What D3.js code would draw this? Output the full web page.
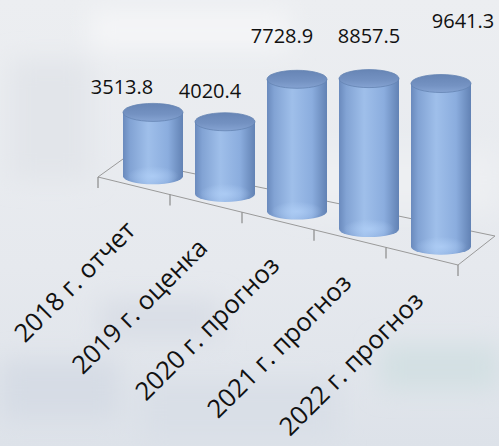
<!DOCTYPE html>
<html>
<head>
<meta charset="utf-8">
<script src="https://cdn.jsdelivr.net/npm/d3@7"></script>
<style>
  html, body { margin: 0; padding: 0; background: #e9ebef; }
  svg { display: block; }
</style>
</head>
<body>
<div id="chart"></div>
<script>
// данные
var categories = ["2018 г. отчет", "2019 г. оценка", "2020 г. прогноз", "2021 г. прогноз", "2022 г. прогноз"];
var values = [3513.8, 4020.4, 7728.9, 8857.5, 9641.3];
var valueLabels = ["3513.8", "4020.4", "7728.9", "8857.5", "9641.3"];

var W = 499, H = 446;
var floorFL = [98, 177], floorFR = [458, 265],
    depthL = [25, -18], depthR = [37, -29];
var rx = 30, ry = 8;
var labelNudge = [[-31, -10], [-15, -16], [-15, -28], [0, -28], [22, -48]]; // подписи значений вручную

var svg = d3.select("#chart").append("svg")
    .attr("width", W).attr("height", H);
var defs = svg.append("defs");

// фон
var blur = defs.append("filter").attr("id", "blur")
    .attr("x", "-20%").attr("y", "-20%").attr("width", "140%").attr("height", "140%");
blur.append("feGaussianBlur").attr("stdDeviation", 12);

var bgGrad = defs.append("linearGradient").attr("id", "bg")
    .attr("x1", 0).attr("y1", 0).attr("x2", 0).attr("y2", 1);
bgGrad.append("stop").attr("offset", "0%").attr("stop-color", "#eceef1");
bgGrad.append("stop").attr("offset", "60%").attr("stop-color", "#e6e9ee");
bgGrad.append("stop").attr("offset", "100%").attr("stop-color", "#dde2e9");
svg.append("rect").attr("width", W).attr("height", H).attr("fill", "url(#bg)");

var bgPatches = svg.append("g").attr("filter", "url(#blur)");
[[90, 10, 200, 40, "#f4f5f7"], [10, 60, 80, 120, "#e2e5ea"], [0, 360, 120, 60, "#d6dce5"],
 [140, 380, 200, 60, "#d9dfe7"], [380, 345, 119, 45, "#d3e0e3"], [300, 150, 199, 60, "#edeff2"],
 [100, 300, 120, 40, "#d9dee6"]]
  .forEach(function(p){
    bgPatches.append("rect").attr("x", p[0]).attr("y", p[1]).attr("width", p[2]).attr("height", p[3]).attr("fill", p[4]);
  });

// шкалы
var x = d3.scaleBand().domain(categories).range([0, 1]).paddingInner(0).paddingOuter(0);
var hScale = d3.scaleLinear().domain([0, 10000]).range([7, 169]);

function lerp(a, b, t){ return a + (b - a) * t; }
function front(t){ return [lerp(floorFL[0], floorFR[0], t), lerp(floorFL[1], floorFR[1], t)]; }

// пол
var BL = [floorFL[0] + depthL[0], floorFL[1] + depthL[1]],
    BR = [floorFR[0] + depthR[0], floorFR[1] + depthR[1]];
svg.append("path")
    .attr("d", "M" + floorFL + "L" + BL + "L" + BR + "L" + floorFR + "Z")
    .attr("fill", "none").attr("stroke", "#9a9a9a").attr("stroke-width", 1);

var tickTs = d3.range(categories.length + 1).map(function(i){ return i / categories.length; });
svg.append("g").selectAll("line").data(tickTs).enter().append("line")
    .attr("x1", function(t){ return front(t)[0]; })
    .attr("x2", function(t){ return front(t)[0]; })
    .attr("y1", function(t){ return front(t)[1]; })
    .attr("y2", function(t){ return front(t)[1] + 11; })
    .attr("stroke", "#8a8a8a").attr("stroke-width", 1.2);

// градиенты цилиндров
var bodyGrad = defs.append("linearGradient").attr("id", "body")
    .attr("x1", 0).attr("y1", 0).attr("x2", 1).attr("y2", 0);
[["0%", "#6a8abd"], ["12%", "#82a3d4"], ["42%", "#9fbfea"], ["75%", "#8badde"], ["100%", "#6282b4"]]
  .forEach(function(s){ bodyGrad.append("stop").attr("offset", s[0]).attr("stop-color", s[1]); });
var topGrad = defs.append("linearGradient").attr("id", "topg")
    .attr("x1", 0).attr("y1", 0).attr("x2", 0).attr("y2", 1);
[["0%", "#6785b5"], ["60%", "#7492c2"], ["100%", "#85a3d2"]]
  .forEach(function(s){ topGrad.append("stop").attr("offset", s[0]).attr("stop-color", s[1]); });
var glow = defs.append("radialGradient").attr("id", "glow")
    .attr("cx", "50%").attr("cy", "60%").attr("r", "50%");
glow.append("stop").attr("offset", "0%").attr("stop-color", "#b0cff7").attr("stop-opacity", 0.8);
glow.append("stop").attr("offset", "100%").attr("stop-color", "#b0cff7").attr("stop-opacity", 0);

var bars = svg.append("g").selectAll("g").data(values).enter().append("g")
    .attr("transform", function(d, i){
        var f = front(x(categories[i]) + x.bandwidth() / 2);
        return "translate(" + (f[0] + 19) + "," + (f[1] - 1.5 - ry) + ")";
    });

bars.append("path")
    .attr("d", function(d){
        var h = hScale(d);
        return "M" + (-rx) + "," + (-h) + "L" + (-rx) + ",0" +
               "A" + rx + "," + ry + " 0 0 0 " + rx + ",0" +
               "L" + rx + "," + (-h) + "Z";
    })
    .attr("fill", "url(#body)");

bars.append("ellipse")
    .attr("cx", 0).attr("cy", -2).attr("rx", rx - 4).attr("ry", ry + 2)
    .attr("fill", "url(#glow)");

bars.append("ellipse")
    .attr("cx", 0).attr("cy", function(d){ return -hScale(d); })
    .attr("rx", rx).attr("ry", ry + 1)
    .attr("fill", "url(#topg)")
    .attr("stroke", "#6584b3").attr("stroke-width", 0.8);

// подписи значений
svg.append("g").selectAll("text").data(values).enter().append("text")
    .attr("x", function(d, i){
        var f = front(x(categories[i]) + x.bandwidth() / 2);
        return f[0] + 19 + labelNudge[i][0];
    })
    .attr("y", function(d, i){
        var f = front(x(categories[i]) + x.bandwidth() / 2);
        return f[1] - 1.5 - ry - hScale(d) - ry + labelNudge[i][1];
    })
    .attr("text-anchor", "middle")
    .attr("font-family", "'Open Sans', sans-serif")
    .attr("font-size", 20)
    .attr("fill", "#111")
    .text(function(d, i){ return valueLabels[i]; });

// подписи категорий
svg.append("g").selectAll("text").data(categories).enter().append("text")
    .attr("transform", function(d){
        var f = front(x(d) + x.bandwidth() / 2);
        return "translate(" + (f[0] + 3) + "," + (f[1] + 46) + ") rotate(-45)";
    })
    .attr("text-anchor", "end")
    .attr("font-family", "'Open Sans', sans-serif")
    .attr("font-size", 25.5)
    .attr("fill", "#111")
    .text(function(d){ return d; });
</script>
</body>
</html>
